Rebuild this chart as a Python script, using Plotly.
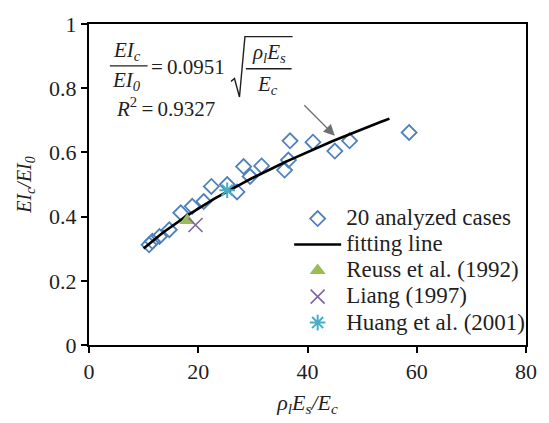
import numpy as np
import plotly.graph_objects as go

# 20 analyzed cases: rho_l*Es/Ec vs EIc/EI0
case_x = [11.0, 11.6, 12.9, 14.7, 16.8, 18.9, 21.0, 22.4, 25.3, 27.1,
          28.3, 29.5, 31.6, 35.8, 36.5, 36.8, 41.0, 45.0, 47.7, 58.6]
case_y = [0.312, 0.323, 0.338, 0.359, 0.412, 0.432, 0.447, 0.494, 0.500, 0.477,
          0.556, 0.525, 0.558, 0.545, 0.576, 0.636, 0.632, 0.604, 0.636, 0.662]

# Test results from the literature
reuss_x, reuss_y = [18.0], [0.388]
liang_x, liang_y = [19.5], [0.374]
huang_x, huang_y = [25.3], [0.482]

# Fitted relation EIc/EI0 = 0.0951 * sqrt(rho_l*Es/Ec)
FIT_COEF = 0.0951
FIT_R2 = 0.9327
fit_range = [10, 55]
fit_x = np.linspace(fit_range[0], fit_range[1], 60)
fit_y = FIT_COEF * np.sqrt(fit_x)

x_ticks = [0, 20, 40, 60, 80]
y_ticks = [0, 0.2, 0.4, 0.6, 0.8, 1]

SERIF = "'Times New Roman', 'Liberation Serif', 'DejaVu Serif', serif"
INK = "#1f1f1f"

# page layout (pixels)
W_PAGE, H_PAGE = 549, 423
M_L, M_R, M_T, M_B = 89, 20, 17, 76
PW = W_PAGE - M_L - M_R
PH = H_PAGE - M_T - M_B


def px(x):
    return (x - M_L) / PW


def py(y):
    return (M_T + PH - y) / PH


LEG_FONT = 23
def leg(name):
    return f'<span style="font-size:{LEG_FONT}px">{name}</span>'


fig = go.Figure()

fig.add_trace(go.Scatter(
    x=case_x, y=case_y, mode="markers", name=leg("20 analyzed cases"),
    marker=dict(symbol="diamond-open", size=11.5, color="#4F81BD",
                line=dict(width=1.8, color="#4F81BD")),
    legendrank=1))

fig.add_trace(go.Scatter(
    x=fit_x, y=fit_y, mode="lines", name=leg("fitting line"),
    line=dict(color="black", width=2.6), legendrank=2))

fig.add_trace(go.Scatter(
    x=reuss_x, y=reuss_y, mode="markers", name=leg("Reuss et al. (1992)"),
    marker=dict(symbol="triangle-up", size=14, color="#9BBB59"),
    legendrank=3))

fig.add_trace(go.Scatter(
    x=liang_x, y=liang_y, mode="markers", name=leg("Liang (1997)"),
    marker=dict(symbol="x-thin-open", size=14, color="#8064A2",
                line=dict(width=1.6, color="#8064A2")),
    legendrank=4))

fig.add_trace(go.Scatter(
    x=huang_x, y=huang_y, mode="markers", name=leg("Huang et al. (2001)"),
    marker=dict(symbol="asterisk-open", size=13, color="#4BACC6",
                line=dict(width=2, color="#4BACC6")),
    legendrank=5))

annotations = []
shapes = []


def text(t, x, y, size=21, xanchor="center", italic=False):
    annotations.append(dict(
        text=f"<i>{t}</i>" if italic else t,
        x=px(x), y=py(y), xref="paper", yref="paper",
        xanchor=xanchor, yanchor="middle", showarrow=False,
        font=dict(family=SERIF, size=size, color=INK)))


def hline(x0, x1, y, width=1.4):
    shapes.append(dict(type="line", xref="paper", yref="paper",
                       x0=px(x0), x1=px(x1), y0=py(y), y1=py(y),
                       line=dict(color=INK, width=width)))


# equation block
text("EI<sub>c</sub>", 127, 45, italic=True)
hline(110, 148, 60)
text("EI<sub>0</sub>", 127, 76, italic=True)
text(f"=\u2009{FIT_COEF}", 149, 61, xanchor="left")
rad = [(232, 76), (235.5, 73), (240.5, 92), (246, 30), (294, 30)]
shapes.append(dict(
    type="path", xref="paper", yref="paper",
    path="M " + " L ".join(f"{px(a):.5f},{py(b):.5f}" for a, b in rad),
    line=dict(color=INK, width=1.4)))
text("ρ<sub>l</sub>E<sub>s</sub>", 270, 47, italic=True)
hline(247, 293, 63)
text("E<sub>c</sub>", 269, 80, italic=True)
text(f"<i>R</i><sup>2</sup>\u2009=\u2009{FIT_R2}", 114, 103, xanchor="left")

# arrow pointing at the fitting line
annotations.append(dict(
    x=45.0, y=0.652, xref="x", yref="y", text="", showarrow=True,
    ax=-32, ay=-32, arrowhead=2, arrowsize=1.7, arrowwidth=1.3,
    arrowcolor="#6f6f6f"))

fig.update_layout(
    width=W_PAGE, height=H_PAGE,
    margin=dict(l=M_L, r=M_R, t=M_T, b=M_B),
    paper_bgcolor="white", plot_bgcolor="white",
    font=dict(family=SERIF, color=INK),
    showlegend=True,
    legend=dict(x=0.458, y=0.45, xanchor="left", yanchor="top",
                bgcolor="rgba(0,0,0,0)", font=dict(size=17.7, family=SERIF, color=INK),
                itemwidth=47, tracegroupgap=0),
    annotations=annotations, shapes=shapes,
)

axis_common = dict(
    showgrid=False, zeroline=False, showline=True, linecolor="black",
    linewidth=2, mirror=True, ticks="outside", ticklen=6, tickwidth=2,
    tickcolor="black", tickfont=dict(family=SERIF, size=22, color=INK))

fig.update_xaxes(range=[0, 80], tickvals=x_ticks, ticktext=[str(v) for v in x_ticks],
                 title=dict(text="<i>ρ<sub>l</sub>E<sub>s</sub>/E<sub>c</sub></i>",
                            font=dict(family=SERIF, size=22, color=INK), standoff=11),
                 **axis_common)
fig.update_yaxes(range=[0, 1], tickvals=y_ticks, ticktext=["0", "0.2", "0.4", "0.6", "0.8", "1"],
                 title=dict(text="<i>EI<sub>c</sub>/EI<sub>0</sub></i>",
                            font=dict(family=SERIF, size=20, color=INK), standoff=12),
                 **axis_common)

fig.write_html("out.html")
